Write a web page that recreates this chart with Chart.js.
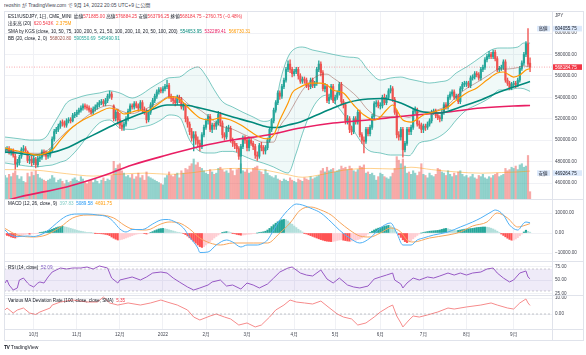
<!DOCTYPE html>
<html><head><meta charset="utf-8">
<script src="https://cdn.jsdelivr.net/npm/chart.js@4.4.0/dist/chart.umd.min.js"></script>
<style>
html,body{margin:0;padding:0;background:#fff;width:586px;height:355px;overflow:hidden;font-family:"Liberation Sans","Noto Sans CJK JP",sans-serif;}
canvas{position:absolute;left:0;}
.t{position:absolute;white-space:nowrap;font-size:9.2px;line-height:1;color:#131722;transform:scale(.5);transform-origin:0 0;z-index:5;}
.ln{position:absolute;background:#e0e3eb;z-index:4;}
.r{color:#f23645}
</style></head><body>
<canvas id="cMain" width="586" height="187" style="top:12px;width:586px;height:187px"></canvas>
<canvas id="cMacd" width="586" height="62" style="top:199px;width:586px;height:62px"></canvas>
<canvas id="cRsi" width="586" height="40" style="top:261px;width:586px;height:40px"></canvas>
<canvas id="cDev" width="586" height="45" style="top:295px;width:586px;height:45px"></canvas>

<div class="ln" style="left:4px;top:11px;width:580px;height:1px"></div>
<div class="ln" style="left:4px;top:199px;width:580px;height:1px"></div>
<div class="ln" style="left:4px;top:261px;width:580px;height:1px"></div>
<div class="ln" style="left:4px;top:295px;width:580px;height:1px"></div>
<div class="ln" style="left:4px;top:329px;width:580px;height:1px"></div>
<div class="ln" style="left:4px;top:340px;width:580px;height:1px"></div>
<div class="ln" style="left:4px;top:11px;width:1px;height:330px"></div>
<div class="ln" style="left:552px;top:11px;width:1px;height:330px"></div>
<div class="ln" style="left:583px;top:11px;width:1px;height:330px"></div>

<div class="t" style="left:4px;top:2.5px;font-size:10px;color:#434651">reoshin が TradingView.com で 9月 14, 2022 20:05 UTC+9 に公開</div>
<div class="t" style="left:8px;top:13.7px">ES1!/USDJPY, 1日, CME_MINI&nbsp; 始値<span class="r">571885.00</span> 高値<span class="r">576884.25</span> 安値<span class="r">563796.25</span> 終値<span class="r">568184.75</span> <span class="r">−2760.75 (−0.48%)</span></div>
<div class="t" style="left:8px;top:21.4px">出来高 (20)&nbsp; <span class="r">620.543K</span>&nbsp; <span style="color:#ff9800">2.375M</span></div>
<div class="t" style="left:8px;top:28.7px">SMA by KGS (close, 10, 50, 75, 100, 200, 5, 21, 50, 100, 200, 10, 20, 50, 100, 200)&nbsp; <span style="color:#00897b">554653.95</span>&nbsp; <span style="color:#e91e63">532289.41</span>&nbsp; <span style="color:#ff9800">566730.31</span></div>
<div class="t" style="left:8px;top:35.7px">BB (20, close, 2, 0)&nbsp; <span style="color:#a0584e">568020.80</span>&nbsp; <span style="color:#26a69a">590550.69</span>&nbsp; <span style="color:#26a69a">545490.91</span></div>
<div class="t" style="left:8px;top:201.2px">MACD (12, 26, close, 9)&nbsp; <span style="color:#80cbc4">397.83</span>&nbsp; <span style="color:#2196f3">5089.58</span>&nbsp; <span style="color:#ff9800">4691.75</span></div>
<div class="t" style="left:8px;top:264.7px">RSI (14, close)&nbsp; <span style="color:#7e57c2">52.09</span></div>
<div class="t" style="left:8px;top:298.2px">Various MA Deviation Rate (100, close, close, SMA)&nbsp; <span class="r">5.35</span></div>
<div class="t" style="left:4px;top:344.5px;font-size:10px;color:#131722"><b style="letter-spacing:-1px">TV</b>&nbsp;TradingView</div>

<script>
// ---------- DATA (prices in thousand JPY) ----------
const monthTicks = [14,35,56,77,98,118,141,161,183,204,225,248];
const monthLabels = ['10月','11月','12月','2022','2月','3月','4月','5月','6月','7月','8月','9月'];
const priceTicks = [460,480,500,520,540,560,580,600];
const macdTicks = [10000,0,-10000];
const rsiTicks = [75,50,25];
const devTicks = [10,0];

const opens = [
490,491,492,489,490,485,478,479,485,491,
492,489,481,482,479,482,477,483,484,489,
488,485,486,490,501,508,510,513,517,516,
514,518,519,518,523,524,526,528,530,532,
531,530,528,526,529,531,533,535,536,534,
537,541,543,532,521,526,519,514,512,515,
520,527,532,531,534,532,530,535,528,527,
519,526,533,537,541,545,547,546,548,550,
551,541,539,537,535,540,538,531,532,520,
515,508,502,505,500,497,494,505,512,518,
522,510,514,513,516,524,516,505,503,511,
511,500,497,495,492,485,494,502,500,493,
500,497,494,486,485,495,493,490,493,500,
510,518,528,535,544,541,550,556,566,571,
566,562,564,566,560,555,557,556,551,550,
556,551,553,566,571,563,548,550,537,540,
550,537,540,544,552,536,533,518,520,510,
508,520,517,526,505,500,499,510,506,512,
522,534,535,532,532,540,535,540,546,548,
538,526,505,503,510,491,497,510,508,512,
527,528,515,514,510,513,512,515,518,526,
527,523,521,520,526,533,531,540,543,545,
540,541,536,548,552,553,553,551,558,559,
562,561,558,566,568,575,578,580,578,582,
576,566,567,568,573,556,553,549,552,553,
552,556,567,572,580,590,571.885];
const highs = [
493,494,494,492,492,487,482,486,493,495,
494,490,485,485,485,484,485,487,491,491,
490,489,492,503,510,512,515,518,519,518,
520,521,521,525,526,528,530,532,534,534,
533,532,530,531,533,535,537,538,538,539,
543,546,545,533,528,529,525,518,517,522,
529,534,534,536,536,534,537,537,531,529,
528,535,539,543,547,549,549,550,552,556,
553,543,541,539,542,542,540,535,534,522,
517,511,508,508,503,500,507,514,520,524,
524,516,516,518,527,526,518,507,513,514,
513,502,499,497,494,496,504,504,502,502,
502,499,496,489,497,498,495,495,502,512,
520,530,537,546,546,552,558,568,574,575,
568,566,568,568,562,559,559,558,553,558,
558,555,568,574,573,565,553,552,543,552,
552,542,546,554,554,538,535,523,522,513,
522,522,528,528,507,503,512,512,514,524,
536,537,537,535,542,543,542,548,551,550,
540,528,508,512,512,499,512,512,514,529,
531,530,518,516,515,515,517,520,528,529,
529,525,523,528,535,535,542,545,547,547,
543,543,550,554,555,555,555,560,561,564,
564,563,568,570,577,580,583,582,584,584,
578,569,570,575,575,558,555,554,555,555,
558,569,574,582,592,604.05575,576.88425];
const lows = [
488,489,487,486,484,473,475,477,483,489,
488,479,478,476,477,474,475,480,482,485,
482,483,484,489,499,506,508,511,513,512,
512,516,516,517,521,522,524,526,528,529,
528,526,524,524,527,529,531,533,532,532,
535,539,538,518,518,515,511,509,509,513,
518,525,529,529,530,527,528,526,524,516,
517,524,531,535,539,543,544,544,546,548,
539,536,534,532,533,535,529,528,517,512,
505,499,490,496,494,490,492,503,510,515,
508,507,510,510,514,513,502,500,501,508,
498,494,492,489,482,469.26475,492,497,490,490,
495,491,483,481,483,490,487,487,491,498,
508,516,526,533,538,539,548,554,564,563,
559,560,562,557,553,553,553,549,547,548,
549,549,551,564,560,546,545,535,534,538,
535,534,538,542,533,530,515,515,507,505,
506,515,515,503,497,488,497,504,504,510,
520,531,530,529,530,533,533,538,544,536,
524,502,500,500,484,489,495,505,505,510,
525,513,511,507,507,509,510,513,516,524,
521,519,517,518,524,529,529,538,541,538,
538,534,534,546,550,550,549,549,556,557,
559,556,556,564,566,573,576,576,576,574,
564,564,565,566,554,551,547,547,550,549,
550,554,565,570,578,569,563.79625];
const closes = [
491,492,489,490,486,478,479,484,491,492,
490,481,482,479,483,477,483,484,489,488,
485,486,490,501,508,510,513,516,516,514,
518,519,518,523,524,526,528,530,532,531,
530,528,526,529,531,533,535,536,534,537,
541,543,540,520,526,519,514,512,515,520,
527,532,531,534,532,530,535,528,527,519,
526,533,537,541,545,547,546,548,550,551,
541,539,537,535,540,538,531,532,520,515,
508,502,505,500,497,494,505,512,518,522,
510,514,513,516,524,516,505,503,511,511,
500,497,495,492,485,494,502,500,493,500,
497,494,486,485,495,493,490,493,500,510,
518,528,535,544,541,550,556,566,571,566,
562,564,566,560,555,557,556,551,550,556,
551,553,566,571,563,548,550,537,540,550,
537,540,544,552,536,533,518,520,510,508,
520,517,526,505,500,499,510,506,512,522,
534,535,532,532,540,535,540,546,548,538,
526,505,503,510,491,497,510,508,512,527,
528,515,514,510,513,512,515,518,526,527,
523,521,520,526,533,531,540,543,545,540,
541,536,548,552,553,553,551,558,559,562,
561,558,566,568,575,578,580,578,582,576,
566,567,568,573,556,553,549,552,553,552,
556,567,572,580,590,571,568.18475];
// volume in millions
const volumes = [
2.0,1.8,2.1,1.9,2.2,2.4,2.0,1.7,1.9,1.5,
1.4,2.2,1.9,2.3,2.0,2.4,2.1,1.8,1.7,1.6,
1.5,1.6,1.7,2.0,1.8,1.4,1.6,1.7,1.5,1.3,
1.6,1.4,1.5,1.7,1.8,1.6,1.5,1.9,1.7,1.4,
1.3,1.5,1.6,1.4,1.7,1.5,1.3,1.6,1.8,1.5,
1.7,1.6,2.0,3.2,2.6,2.9,3.0,2.4,2.2,1.9,
2.0,1.8,2.1,1.7,1.9,2.2,1.8,2.0,1.6,2.3,
1.9,1.8,1.7,1.6,1.5,1.4,1.3,1.2,1.8,2.0,
2.3,2.0,1.9,2.1,2.2,1.8,2.4,2.2,2.6,2.5,
2.8,3.0,3.4,2.9,3.1,2.7,2.6,2.4,2.2,2.1,
2.5,2.3,2.1,2.2,2.6,2.7,2.5,2.3,2.4,2.2,
2.6,2.4,2.0,2.5,2.6,3.0,2.4,2.3,2.5,2.2,
2.3,2.6,2.7,2.8,2.4,2.3,2.1,2.5,2.2,2.0,
1.9,1.8,2.0,1.7,1.6,1.5,1.7,1.6,1.5,1.8,
1.6,1.5,1.4,1.7,1.6,1.5,1.8,1.7,1.6,1.9,
1.7,1.8,1.9,2.0,2.4,2.6,2.3,2.7,2.4,2.5,
2.6,2.3,2.4,2.5,2.8,2.6,2.7,2.5,2.8,2.6,
2.4,2.3,2.5,2.8,2.7,2.9,2.2,2.3,2.1,2.2,
2.0,1.6,1.9,2.2,2.1,1.9,1.8,1.7,1.9,2.2,
2.6,3.6,3.3,3.0,3.4,2.8,2.2,2.3,2.1,2.4,
2.2,2.0,2.3,3.0,2.1,2.0,1.8,2.2,2.0,1.9,
2.1,2.6,2.5,2.3,2.2,2.0,2.4,2.1,1.9,2.2,
2.0,2.3,2.4,2.1,1.9,2.0,1.8,1.9,2.1,1.8,
1.7,2.0,1.9,2.1,1.8,1.7,1.9,1.8,2.0,2.1,
2.2,1.9,2.0,2.1,2.6,2.4,2.5,2.7,2.6,2.8,
2.5,2.9,3.0,2.7,2.8,3.7,0.62];
const volMaIdx = [0,15,30,43,55,68,80,92,100,112,125,137,145,155,165,178,190,198,208,220,232,242,250,256];
const volMaVal = [2.5,2.45,2.15,1.95,2.1,2.2,2.1,2.25,2.45,2.6,2.5,2.1,1.85,2.1,2.45,2.6,2.55,2.7,2.5,2.3,2.2,2.25,2.3,2.375];

const sma10Idx = [0,4,11,16,20,23,27,30,33,38,43,46,51,55,58,62,66,69,72,76,79,82,85,89,92,95,100,105,110,115,120,124,128,131,134,138,140,144,149,154,157,160,165,170,175,180,183,186,189,194,198,204,209,216,219,225,230,235,240,243,248,251,254,256];
const sma10Val = [492.7,490.8,488.0,486.1,488.0,490.8,500.1,506.7,512.3,518.8,523.5,526.3,530.0,528.1,524.4,526.3,528.1,526.3,530.0,535.6,539.3,540.3,538.4,530.9,525.3,520.7,518.8,520.7,518.8,514.1,507.6,502.9,501.1,504.8,518.8,534.7,544.0,549.6,553.3,553.3,551.5,546.8,544.0,532.8,523.5,518.8,521.6,528.1,532.8,518.8,516.9,523.5,526.3,530.9,535.6,544.0,548.7,556.1,562.7,563.6,558.9,560.8,565.5,566.73];
const sma50Idx = [0,6,14,22,30,38,46,55,62,71,79,87,95,103,111,120,128,133,138,144,152,160,168,177,184,193,202,212,222,232,241,251,256];
const sma50Val = [488.9,488.0,486.1,488.0,492.7,500.1,507.6,516.0,521.6,528.1,532.8,532.8,530.0,526.3,521.6,516.9,512.3,511.8,514.1,516.9,523.5,530.0,535.6,538.4,538.9,534.7,527.2,525.3,530.9,537.5,544.9,551.5,554.65];
const sma200Idx = [0,7,30,46,62,79,95,111,128,144,160,177,193,216,232,248,256];
const sma200Val = [443.2,447.0,456.3,465.5,476.8,486.1,494.1,500.1,504.8,511.3,516.0,518.8,522.1,526.3,530.0,531.9,532.29];

const bbIdx = [0,4,8,12,16,20,23,27,30,35,40,46,51,56,62,66,71,76,80,85,90,94,98,102,106,111,116,121,126,131,134,138,142,145,150,154,157,160,164,168,172,177,183,188,193,197,202,207,212,216,220,225,229,232,237,241,245,250,253,256];
const bbUpper = [502.9,502.0,501.0,500.1,500.1,502.9,512.3,525.3,534.7,539.3,542.1,544.0,546.0,544.0,539.3,542.1,548.5,554.3,558.2,558.9,565.5,568.3,560,547,536,530.9,526,521.6,517.5,521.6,553.3,577.6,586.0,586.9,584.1,582.5,581.3,580,578.5,577.4,576.7,565.5,556.1,558.0,558.9,557,555,553.3,554.5,556.1,562.7,568.3,573.5,577.6,584.1,586.0,586.0,586.9,590.7,590.55];
const bbLower = [478.7,477.5,476.5,475.5,475.2,476.2,476.8,479.5,481.5,490.8,502.9,516.0,518.8,511.3,510,512.3,514.1,518.8,523.5,521.6,500.1,490.8,488.0,488.0,489.5,489.5,485.5,481.5,478.5,474.9,472,469.3,488,506,530,540,542,536,527,516,502.9,490.8,488.0,486.1,486.1,485.5,497.3,499.5,503.5,509.5,518.8,528.1,532,534.7,540.3,546.8,546.8,548.5,548,545.49];
const bbBasis = [490.8,489.8,488.8,487.8,487.7,489.5,494.5,502.4,508.1,515,522.5,530,532.4,527.7,524.7,527.2,531.3,536.5,540.8,540.2,532.8,529.5,524,517.5,512.7,510.2,505.7,501.5,498,498.2,512.6,523.5,537,546.5,557,561.2,561.6,558,552.7,546.7,539.8,528.1,522,522,522.5,521.2,526.1,526.4,529,532.8,540.7,548.2,552.7,556.1,562.2,566.4,566.4,567.7,569.3,568.02];

const lastClose = 568.18475, hiVal = 604.05575, loVal = 469.26475;

const macdIdx = [0,2,6,11,14,17,20,23,27,30,35,40,45,50,53,56,59,62,67,72,76,79,82,87,90,94,95,99,103,108,111,115,118,123,126,128,131,134,139,142,145,150,154,159,163,168,173,178,183,188,191,194,198,201,204,209,216,222,228,232,237,239,243,246,250,253,254,256];
const macdVal = [1500,-500,-1750,-1500,-1750,-1000,500,3000,6500,8500,9500,9500,9000,8000,5500,2000,500,1750,1750,4500,6500,6750,6000,2500,-2000,-7500,-9750,-9500,-6000,-3500,-4500,-7000,-6000,-6000,-5000,-3500,1500,6500,12500,14500,14000,12000,10000,5500,1500,-2500,-5000,-2500,2500,5000,0,-6000,-6000,-3500,-2500,-1000,500,3000,5500,7500,10500,11500,9000,4000,1500,5000,5500,5089.58];
const sigIdx = [0,6,14,20,27,33,40,46,53,58,62,69,76,80,85,90,95,100,105,111,121,128,134,139,144,149,154,159,163,168,173,178,183,188,193,196,199,207,216,222,228,235,240,245,250,254,256];
const sigVal = [2250,-1000,-2000,-1000,3000,7500,9000,9000,7500,4000,2000,1500,4500,5500,5000,2000,-2500,-5000,-6000,-5000,-5000,-5000,0,5000,11500,13000,11500,9000,5500,1500,-1500,-2000,0,2500,500,-3500,-4500,-2500,-1000,500,3500,5500,10000,7500,3000,4000,4691.75];
const hist = [
-800,-1200,-1500,-2000,-2300,-2500,-2200,-1800,-1300,
-900,-700,-500,-600,-400,-300,-200,-100,
200,400,600,900,1200,
1500,1900,2300,2700,3000,3200,3300,3100,2900,
2600,2300,2000,1700,1400,1100,900,700,500,300,200,100,0,-100,
-200,-300,-400,-500,-700,-900,
-1300,-2000,-2600,-3100,-3500,-3400,-3200,-2900,
-2500,-2100,-1700,-1300,-900,-600,-400,-300,-200,
-300,-500,-300,
200,700,1200,1600,2000,2200,2300,2100,
1900,1600,1300,1000,700,400,200,0,-300,-800,
-1500,-2400,-3300,-4200,-5100,-6000,-6800,-7200,
-6800,-6000,-5200,-4300,-3400,-2500,-1700,-1000,
-400,100,500,700,600,300,
-100,-400,-700,-900,-1100,-1000,-900,-700,-600,-500,-300,
-200,0,200,400,600,900,
1500,2300,3200,4100,4900,5600,6200,6600,6800,6600,
6000,5200,4400,3500,2700,1900,1200,500,
-100,-500,-900,-1300,-1700,-2100,-2500,
-2900,-3300,-3600,-3900,-4100,-4200,-4300,-4200,
-4000,-3700,-3500,-3400,-3600,-3800,-4000,-4100,
-4000,-3800,-3600,-3300,-3000,-2500,-1900,-1200,
-500,200,900,1500,2000,2400,2700,
3000,3300,3600,3800,3500,2800,1800,
500,-900,-2200,-3400,-4300,-4800,-4500,-3800,
-2900,-2000,-1200,-500,0,300,500,
700,900,1000,1100,1200,1300,1500,1800,2100,2300,
2100,1800,1500,1300,1200,1300,1500,
1700,1900,2000,2100,2200,2300,2500,2700,2800,2900,
3000,3000,2900,2700,2400,2000,1500,900,200,
-500,-1200,-1900,-2600,-3200,-3600,-3500,-3000,-2300,
-1400,-500,500,1400,800,397.83];

const rsiIdx = [0,1,2,4,6,7,9,11,12,14,16,17,19,21,23,25,27,30,33,37,40,43,46,50,52,55,56,60,62,66,69,72,76,79,82,85,89,92,95,99,101,105,108,111,115,118,121,124,128,131,134,138,140,144,147,150,154,157,160,163,167,170,173,177,180,183,186,189,190,193,194,196,199,202,206,209,212,216,219,222,225,228,232,235,238,240,243,246,248,251,254,255,256];
const rsiVal = [44.5,50,40.9,31.8,35.5,50,53.6,44.5,40.9,37.3,44.5,46.4,44.5,55.5,64.5,68.2,71.8,70,71.8,71.8,73.6,70,75.5,71.8,53.6,44.5,50,53.6,55.5,50,55.5,62.7,64.5,62.7,53.6,46.4,37.3,31.8,35.5,40.9,46.4,50,39,40.9,33.6,44.5,40.9,35.5,42.7,53.6,64.5,71.8,73.6,62.7,59,57.3,68.2,51.8,44.5,53.6,40.9,37.3,35.5,39,51.8,55.5,59,62.7,50,42.7,35.5,44.5,53.6,50,55.5,53.6,57.3,62.7,59,62.7,59,62.7,64.5,70,71.8,62.7,53.6,46.4,50,62.7,66.4,55.5,52.09];
const rsiBands = [70,30];

const devIdx = [0,1,4,6,9,12,15,17,22,23,27,33,40,45,48,51,55,60,66,71,76,79,84,89,92,95,100,103,107,110,114,118,122,125,129,132,136,139,142,146,150,154,157,162,165,169,172,176,180,183,187,189,191,193,194,197,199,202,206,211,216,219,225,232,237,240,245,248,251,254,255,256];
const devVal = [2.5,3.75,0.6,2.5,3.75,0.6,-0.3,1.25,3.75,5.6,7.5,8.75,7.5,7.5,10.6,6.9,5.6,6.9,5.6,6.9,8.75,7.5,5.6,2.5,-1.9,-3.75,-1.25,0,-1.9,-3.1,-6.9,-5.6,-8.1,-6.9,-1.9,2.5,5.6,8.75,7.5,6.9,6.25,8.1,5,0,-1.9,-3.1,-6.9,-5.6,-1.9,1.25,4.4,5.6,-1.25,-5.6,-8.1,-3.75,-1.25,-1.9,-0.6,1.25,3.75,3.1,4.4,5.6,6.9,5.6,3.75,3.1,6.9,9.4,6.9,5.35];

// ---------- RENDER ----------
const FONT = '"Liberation Sans","Noto Sans CJK JP",sans-serif';
const FS = 4.6;
const GRID = '#f0f1f5';
const UP = '#26a69a', DN = '#ef5350';
const X_MIN = -0.49, X_MAX = 266.7;
Chart.defaults.font.family = FONT;
Chart.defaults.font.size = FS;
Chart.defaults.color = '#434651';

const pts = (idx, vals) => idx.map((x,k)=>({x, y:vals[k]}));
const daily = (vals) => vals.map((y,i)=>({x:i, y}));
const span = (v) => [{x:X_MIN, y:v},{x:X_MAX, y:v}];
function lineDs(data, color, width, extra){
  return Object.assign({type:'line', data, borderColor:color, borderWidth:width, pointRadius:0, fill:false, tension:0}, extra||{});
}
const smooth = {cubicInterpolationMode:'monotone'};

function xScale(show){
  return {type:'linear', min:X_MIN, max:X_MAX, offset:false,
    grid:{color:GRID, drawTicks:false, offset:false}, border:{display:false},
    ticks:{display:show, autoSkip:false, maxRotation:0, padding:3, color:'#434651', font:{size:FS},
      callback:(v)=>{const k=monthTicks.indexOf(v); return k>=0?monthLabels[k]:'';}},
    afterBuildTicks:(s)=>{s.ticks=monthTicks.map(v=>({value:v}));},
    afterFit:(s)=>{s.height = show?11:0; s.paddingLeft=0; s.paddingRight=0;}
  };
}
function yScale(min,max,ticks,fmt){
  return {type:'linear', position:'right', min, max,
    grid:{color:GRID, drawTicks:false}, border:{display:false},
    ticks:{padding:3, autoSkip:false, color:'#434651', font:{size:FS}, callback:(v)=>fmt(v)},
    afterBuildTicks:(s)=>{s.ticks=ticks.map(v=>({value:v}));},
    afterFit:(s)=>{s.width=31; s.paddingTop=0; s.paddingBottom=0;}
  };
}
function baseOpts(pad, scales){
  return {responsive:false, animation:false, devicePixelRatio:1, events:[],
    layout:{padding:pad, autoPadding:false},
    plugins:{legend:{display:false}, tooltip:{enabled:false}},
    scales};
}
const fmt2 = (v)=> (v<0?'−':'') + Math.abs(v).toFixed(2);

const candleCol = closes.map((c,i)=> c>=opens[i] ? UP : DN);
const volCol = closes.map((c,i)=> c>=opens[i] ? 'rgba(38,166,154,0.5)' : 'rgba(239,83,80,0.5)');

const tagPlugin = {
  id:'tags',
  afterDraw(chart){
    const ctx = chart.ctx, ys = chart.scales.y, ax = chart.chartArea.right;
    ctx.save();
    ctx.font = FS+'px '+FONT; ctx.textBaseline='middle'; ctx.textAlign='left';
    ctx.fillStyle='#434651'; ctx.fillText('JPY', ax+3, 4);
    function tag(v, bg, fg, label){
      const y = ys.getPixelForValue(v);
      ctx.fillStyle=bg; ctx.fillRect(ax+1, y-2.8, 29, 5.6);
      ctx.fillStyle=fg; ctx.fillText((v*1000).toFixed(2), ax+3, y+0.3);
      if(label){ ctx.fillStyle=bg; ctx.fillRect(ax-15, y-2.8, 13, 5.6); ctx.fillStyle=fg; ctx.fillText(label, ax-13.5, y+0.3); }
    }
    tag(hiVal, '#dce9fb', '#131722', '高値');
    tag(loVal, '#dce9fb', '#131722', '安値');
    tag(lastClose, '#f23645', '#ffffff', null);
    ctx.restore();
  }
};

new Chart(document.getElementById('cMain'), {
  type:'bar',
  data:{datasets:[
    {type:'bar', yAxisID:'yv', data:daily(volumes), backgroundColor:volCol, barThickness:1.5, grouped:false, order:30},
    lineDs(pts(volMaIdx, volMaVal), 'rgba(255,152,0,0.45)', 1, Object.assign({yAxisID:'yv', order:29}, smooth)),
    lineDs(pts(bbIdx, bbUpper), 'rgba(38,166,154,0.75)', 0.8, Object.assign({fill:'+1', backgroundColor:'rgba(38,166,154,0.07)', order:25}, smooth)),
    lineDs(pts(bbIdx, bbLower), 'rgba(38,166,154,0.75)', 0.8, Object.assign({order:25}, smooth)),
    lineDs(span(lastClose), 'rgba(242,54,69,0.55)', 0.8, {borderDash:[1,1.5], order:24}),
    {type:'bar', data:closes.map((c,i)=>({x:i, y:[lows[i], highs[i]]})), backgroundColor:candleCol, barThickness:0.7, grouped:false, order:10},
    {type:'bar', data:closes.map((c,i)=>({x:i, y:[opens[i], c]})), backgroundColor:candleCol, barThickness:1.5, minBarLength:0.7, grouped:false, order:9},
    lineDs(pts(bbIdx, bbBasis), 'rgba(150,80,70,0.7)', 0.7, Object.assign({order:5}, smooth)),
    lineDs(pts(sma200Idx, sma200Val), '#e91e63', 1.6, Object.assign({order:4}, smooth)),
    lineDs(pts(sma50Idx, sma50Val), '#00897b', 1.6, Object.assign({order:3}, smooth)),
    lineDs(pts(sma10Idx, sma10Val), '#ff9800', 1.2, Object.assign({order:2}, smooth)),
  ]},
  options: baseOpts({left:4,right:3,top:0,bottom:0}, {
    x: xScale(false),
    y: yScale(445.07, 619.6, priceTicks, v=>(v*1000).toFixed(2)),
    yv: {type:'linear', display:false, min:0, max:15.9}
  }),
  plugins:[tagPlugin]
});

const histCol = hist.map((h,i)=>{ const p = i>0?hist[i-1]:h; return h>=0 ? (h>=p?'#26a69a':'#b2dfdb') : (h<p?'#ff5252':'#ffcdd2'); });
new Chart(document.getElementById('cMacd'), {
  type:'bar',
  data:{datasets:[
    {type:'bar', data:daily(hist), backgroundColor:histCol, barThickness:1.5, grouped:false, order:10},
    lineDs(pts(sigIdx, sigVal), '#f7a55a', 1, Object.assign({order:3}, smooth)),
    lineDs(pts(macdIdx, macdVal), '#4fb0f5', 1, Object.assign({order:2}, smooth)),
  ]},
  options: baseOpts({left:4,right:3,top:0,bottom:0}, {
    x: xScale(false),
    y: yScale(-14000, 17000, macdTicks, fmt2)
  })
});

new Chart(document.getElementById('cRsi'), {
  type:'line',
  data:{datasets:[
    lineDs(span(rsiBands[0]), 'rgba(120,123,134,0.5)', 0.7, {borderDash:[2,2], fill:'+1', backgroundColor:'rgba(126,87,194,0.12)'}),
    lineDs(span(rsiBands[1]), 'rgba(120,123,134,0.5)', 0.7, {borderDash:[2,2]}),
    lineDs(pts(rsiIdx, rsiVal), '#9b59c5', 1),
  ]},
  options: baseOpts({left:4,right:3,top:0,bottom:6}, {
    x: xScale(false),
    y: yScale(22.73, 84.55, rsiTicks, v=>v.toFixed(2))
  })
});

new Chart(document.getElementById('cDev'), {
  type:'line',
  data:{datasets:[
    lineDs(span(0), 'rgba(120,123,134,0.6)', 0.7, {borderDash:[2,2]}),
    lineDs(pts(devIdx, devVal), '#f68b8b', 1),
  ]},
  options: baseOpts({left:4,right:3,top:0,bottom:0}, {
    x: xScale(true),
    y: yScale(-9.375, 11.875, devTicks, v=>v.toFixed(2))
  })
});
</script>
</body></html>
